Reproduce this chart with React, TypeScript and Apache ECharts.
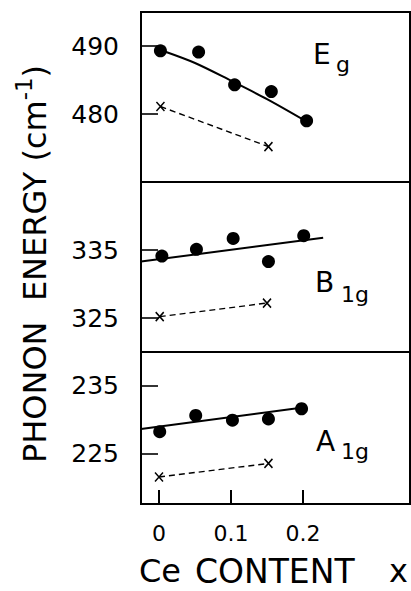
import React, { useEffect, useRef } from "react";
import * as echarts from "echarts";

// ---- data ----
const xTicks = [0, 0.1, 0.2];

const egTicks = [480, 490];
const egRange = [470, 495];
const egDotX = [0.002, 0.055, 0.105, 0.156, 0.205];
const egDotY = [489.3, 489.1, 484.3, 483.3, 479.0];
const egFitX = [0.005, 0.05, 0.1, 0.15, 0.205];
const egFitY = [489.3, 487.5, 484.9, 482.2, 478.9];
const egRefX = [0.002, 0.152];
const egRefY = [481.1, 475.2];

const b1gTicks = [325, 335];
const b1gRange = [320, 345];
const b1gDotX = [0.004, 0.052, 0.103, 0.152, 0.201];
const b1gDotY = [334.1, 335.1, 336.7, 333.3, 337.1];
const b1gFitX = [-0.025, 0.228];
const b1gFitY = [333.3, 336.8];
const b1gRefX = [0.001, 0.15];
const b1gRefY = [325.2, 327.2];

const a1gTicks = [225, 235];
const a1gRange = [217.5, 240];
const a1gDotX = [0.001, 0.051, 0.102, 0.152, 0.198];
const a1gDotY = [228.2, 230.6, 229.9, 230.1, 231.6];
const a1gFitX = [-0.025, 0.2];
const a1gFitY = [228.6, 231.8];
const a1gRefX = [0.0, 0.152];
const a1gRefY = [221.5, 223.5];

const zip = (xs: number[], ys: number[]) => xs.map((x, i) => [x, ys[i]]);

const FONT = "DejaVu Sans";
const X_SYMBOL = "path://M0,0L10,10M10,0L0,10";

export default function App() {
  const ref = useRef<HTMLDivElement>(null);

  useEffect(() => {
    if (!ref.current) return;
    const chart = echarts.init(ref.current, null, { renderer: "svg" });

    const gridTops = [12, 182, 352];
    const gridHeights = [170, 170, 152];
    const ranges = [egRange, b1gRange, a1gRange];
    const yTicks = [egTicks, b1gTicks, a1gTicks];

    const grids = gridTops.map((top, i) => ({
      left: 141,
      top,
      width: 269,
      height: gridHeights[i],
      show: true,
      borderColor: "#000",
      borderWidth: 2,
      backgroundColor: "transparent",
    }));

    const xAxes = [0, 1, 2].map((i) => ({
      type: "value",
      gridIndex: i,
      position: "bottom",
      min: -0.025,
      max: 0.3486,
      axisLine: { show: true, onZero: false, lineStyle: { color: "#000", width: 2 } },
      splitLine: { show: false },
      axisTick: {
        show: i === 2,
        inside: true,
        length: 14,
        customValues: xTicks,
        lineStyle: { color: "#000", width: 2 },
      },
      axisLabel: {
        show: i === 2,
        customValues: xTicks,
        formatter: (v: number) => (v === 0 ? "0" : String(v)),
        color: "#000",
        fontFamily: FONT,
        fontSize: 22,
        margin: 18,
      },
    }));

    const yAxes = [0, 1, 2].map((i) => ({
      type: "value",
      gridIndex: i,
      position: "left",
      min: ranges[i][0],
      max: ranges[i][1],
      axisLine: { show: true, onZero: false, lineStyle: { color: "#000", width: 2 } },
      splitLine: { show: false },
      axisTick: {
        show: true,
        inside: true,
        length: 17,
        customValues: yTicks[i],
        lineStyle: { color: "#000", width: 1.6 },
      },
      axisLabel: {
        customValues: yTicks[i],
        color: "#000",
        fontFamily: FONT,
        fontSize: 25,
        margin: 22,
      },
    }));

    const panels = [
      { dots: zip(egDotX, egDotY), fit: zip(egFitX, egFitY), ref: zip(egRefX, egRefY), smooth: 0.3 },
      { dots: zip(b1gDotX, b1gDotY), fit: zip(b1gFitX, b1gFitY), ref: zip(b1gRefX, b1gRefY), smooth: false },
      { dots: zip(a1gDotX, a1gDotY), fit: zip(a1gFitX, a1gFitY), ref: zip(a1gRefX, a1gRefY), smooth: false },
    ];

    const series: any[] = [];
    panels.forEach((p, i) => {
      series.push({
        type: "line",
        xAxisIndex: i,
        yAxisIndex: i,
        data: p.fit,
        smooth: p.smooth,
        showSymbol: false,
        lineStyle: { color: "#000", width: 2 },
        silent: true,
      });
      series.push({
        type: "line",
        xAxisIndex: i,
        yAxisIndex: i,
        data: p.ref,
        symbol: X_SYMBOL,
        symbolSize: [8, 9],
        showSymbol: true,
        lineStyle: { color: "#000", width: 1.4, type: [6, 4] },
        itemStyle: { color: "#000", borderColor: "#000", borderWidth: 1.6, opacity: 1 },
        silent: true,
      });
      const scatter: any = {
        type: "scatter",
        xAxisIndex: i,
        yAxisIndex: i,
        data: p.dots,
        symbol: "circle",
        symbolSize: 13,
        itemStyle: { color: "#000", opacity: 1 },
        silent: true,
      };
      if (i === 2) {
        // bottom axis ticks (inside), drawn through the panel's own scales
        const yMin = a1gRange[0];
        scatter.markLine = {
          silent: true,
          symbol: ["none", "none"],
          label: { show: false },
          lineStyle: { type: "solid", color: "#000", width: 2 },
          data: xTicks.map((v) => [{ coord: [v, yMin] }, { coord: [v, yMin + 2] }]),
        };
      }
      series.push(scatter);
    });

    const txt = (text: string, x: number, y: number, size: number, align = "left") => ({
      type: "text",
      x,
      y,
      silent: true,
      style: {
        text,
        fill: "#000",
        fontFamily: FONT,
        fontSize: size,
        align,
        verticalAlign: "middle",
      },
    });

    const graphic = [
      {
        type: "text",
        x: 35,
        y: 264,
        rotation: Math.PI / 2,
        silent: true,
        style: {
          text: "{a|PHONON  ENERGY (cm}{s|-1}{a|)}",
          align: "center",
          verticalAlign: "middle",
          fill: "#000",
          rich: {
            a: { fontFamily: FONT, fontSize: 32, lineHeight: 46, verticalAlign: "middle", fill: "#000" },
            s: { fontFamily: FONT, fontSize: 23, lineHeight: 23, verticalAlign: "top", fill: "#000" },
          },
        },
      },
      txt("E", 313, 54, 28),
      txt("g", 336, 64, 22),
      txt("B", 315, 282, 28),
      txt("1g", 341, 294, 22),
      txt("A", 316, 441, 28),
      txt("1g", 341, 451, 22),
      txt("Ce", 139, 571, 32),
      txt("CONTENT", 195, 571, 33),
      txt("x", 389, 571, 32),
    ];

    chart.setOption({
      animation: false,
      grid: grids,
      xAxis: xAxes,
      yAxis: yAxes,
      series,
      graphic,
    });

    return () => chart.dispose();
  }, []);

  return (
    <div
      ref={ref}
      style={{ position: "fixed", left: 0, top: 0, width: 411, height: 591, background: "#fff" }}
    />
  );
}
